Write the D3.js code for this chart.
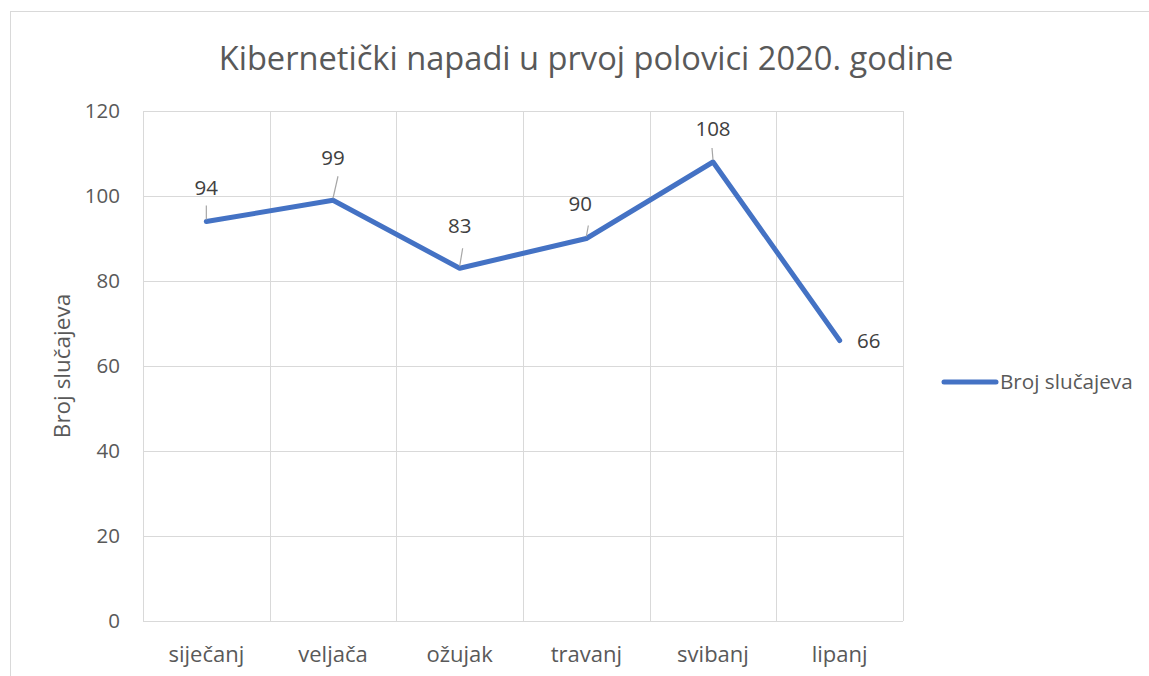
<!DOCTYPE html>
<html>
<head>
<meta charset="utf-8">
<script src="https://cdn.jsdelivr.net/npm/d3@7"></script>
<style>
  html, body { margin: 0; padding: 0; background: #fff; }
  svg { display: block; font-family: "Open Sans", "Noto Sans", sans-serif; }
</style>
</head>
<body>
<div id="chart"></div>
<script>
// chart data
const months = ['siječanj', 'veljača', 'ožujak', 'travanj', 'svibanj', 'lipanj'];
const cases = [94, 99, 83, 90, 108, 66];
const yTicks = [0, 20, 40, 60, 80, 100, 120];
const seriesName = 'Broj slučajeva';
const title = 'Kibernetički napadi u prvoj polovici 2020. godine';

// label offsets relative to point (label position, leader start) - layout only
const labelPos = [
    { dx: 0, dy: -34, lead: [0, -16, 0, -2] },
    { dx: 0, dy: -42, lead: [5, -24, 0, -2] },
    { dx: 0, dy: -42, lead: [3, -20, 0, -2] },
    { dx: -6, dy: -35, lead: [2, -13, 0, -2] },
    { dx: 0, dy: -33, lead: [-1, -14, 0, -2] },
    { dx: 29, dy: 0, lead: null }
];

const W = 1149, H = 676;
const margin = { left: 143, top: 111, right: W - 903, bottom: H - 621 };

const svg = d3.select('#chart').append('svg')
    .attr('width', W)
    .attr('height', H);

// chart frame
svg.append('rect')
    .attr('x', 10.5).attr('y', 11.5)
    .attr('width', W + 10).attr('height', H + 10)
    .attr('fill', '#fff')
    .attr('stroke', '#d9d9d9')
    .attr('stroke-width', 1);

const x = d3.scaleBand()
    .domain(months)
    .range([margin.left, W - margin.right])
    .paddingInner(0).paddingOuter(0);

const y = d3.scaleLinear()
    .domain([0, 120])
    .range([H - margin.bottom, margin.top]);

// horizontal gridlines
svg.append('g')
    .selectAll('line')
    .data(yTicks)
    .join('line')
    .attr('x1', margin.left).attr('x2', W - margin.right)
    .attr('y1', d => Math.round(y(d)) + 0.5).attr('y2', d => Math.round(y(d)) + 0.5)
    .attr('stroke', '#d9d9d9').attr('stroke-width', 1);

// vertical gridlines at category boundaries
const bounds = months.map(m => x(m)).concat([x.range()[1]]);
svg.append('g')
    .selectAll('line')
    .data(bounds)
    .join('line')
    .attr('x1', d => Math.round(d) + 0.5).attr('x2', d => Math.round(d) + 0.5)
    .attr('y1', margin.top).attr('y2', H - margin.bottom)
    .attr('stroke', '#d9d9d9').attr('stroke-width', 1);

// y tick labels
svg.append('g')
    .selectAll('text')
    .data(yTicks)
    .join('text')
    .attr('x', 120)
    .attr('y', d => y(d))
    .attr('dy', '0.35em')
    .attr('text-anchor', 'end')
    .attr('font-size', 20.5)
    .attr('fill', '#595959')
    .text(d => d);

// x tick labels
svg.append('g')
    .selectAll('text')
    .data(months)
    .join('text')
    .attr('x', d => x(d) + x.bandwidth() / 2)
    .attr('y', 662)
    .attr('text-anchor', 'middle')
    .attr('font-size', 22)
    .attr('fill', '#595959')
    .text(d => d);

// y axis title
svg.append('text')
    .attr('transform', `translate(70, ${(margin.top + H - margin.bottom) / 2}) rotate(-90)`)
    .attr('text-anchor', 'middle')
    .attr('font-size', 22.5)
    .attr('fill', '#595959')
    .text(seriesName);

// title, fitted to the reference width
const t = svg.append('text')
    .attr('x', 586)
    .attr('y', 70)
    .attr('text-anchor', 'middle')
    .attr('font-size', 32)
    .attr('fill', '#595959')
    .text(title);
const tw = t.node().getComputedTextLength();
t.attr('font-size', 32 * 735 / tw);

// line
const pts = months.map((m, i) => ({ m, v: cases[i] }));
const line = d3.line()
    .x(d => x(d.m) + x.bandwidth() / 2)
    .y(d => y(d.v));

svg.append('path')
    .datum(pts)
    .attr('d', line)
    .attr('fill', 'none')
    .attr('stroke', '#4472c4')
    .attr('stroke-width', 5)
    .attr('stroke-linejoin', 'round')
    .attr('stroke-linecap', 'round');

// data labels with leader lines
const lbl = svg.append('g');
pts.forEach((d, i) => {
    const px = x(d.m) + x.bandwidth() / 2;
    const py = y(d.v);
    const p = labelPos[i];
    if (p.lead) {
        lbl.append('line')
            .attr('x1', px + p.lead[0]).attr('y1', py + p.lead[1])
            .attr('x2', px + p.lead[2]).attr('y2', py + p.lead[3])
            .attr('stroke', '#a6a6a6').attr('stroke-width', 1.2);
    }
    lbl.append('text')
        .attr('x', px + p.dx)
        .attr('y', py + p.dy)
        .attr('dy', '0.35em')
        .attr('text-anchor', 'middle')
        .attr('font-size', 20.5)
        .attr('fill', '#404040')
        .text(d.v);
});

// legend
const lg = svg.append('g');
lg.append('line')
    .attr('x1', 944).attr('x2', 996)
    .attr('y1', 382).attr('y2', 382)
    .attr('stroke', '#4472c4')
    .attr('stroke-width', 5)
    .attr('stroke-linecap', 'round');
lg.append('text')
    .attr('x', 1000)
    .attr('y', 382)
    .attr('dy', '0.35em')
    .attr('font-size', 20.7)
    .attr('fill', '#595959')
    .text(seriesName);
</script>
</body>
</html>
